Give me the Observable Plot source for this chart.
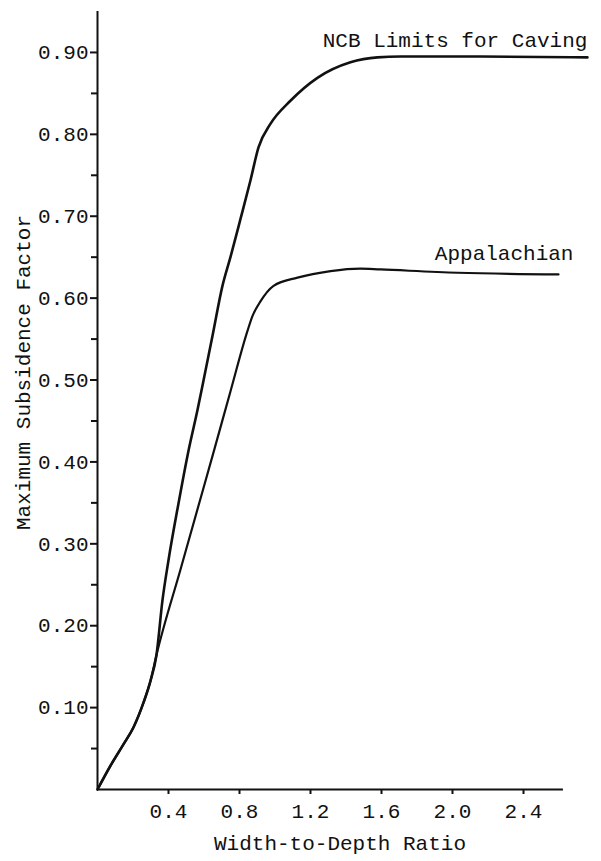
<!DOCTYPE html>
<html>
<head>
<meta charset="utf-8">
<script src="https://cdn.jsdelivr.net/npm/d3@7"></script>
<script src="https://cdn.jsdelivr.net/npm/@observablehq/plot@0.6"></script>
<style>
  html, body { margin: 0; padding: 0; background: #fff; }
</style>
</head>
<body>
<div id="chart"></div>
<script>
// --- data ---
const ncbName = "NCB Limits for Caving";
const ncbX = [0, 0.073, 0.146, 0.203, 0.259, 0.299, 0.332, 0.366, 0.4, 0.456, 0.513, 0.563, 0.597, 0.648, 0.704, 0.749, 0.806, 0.862, 0.907, 0.975, 1.087, 1.239, 1.425, 1.577, 1.707, 2.158, 2.76];
const ncbY = [0, 0.029, 0.055, 0.076, 0.106, 0.133, 0.164, 0.231, 0.28, 0.349, 0.414, 0.463, 0.499, 0.554, 0.615, 0.65, 0.697, 0.744, 0.784, 0.813, 0.841, 0.869, 0.888, 0.894, 0.895, 0.895, 0.894];

const appName = "Appalachian";
const appX = [0, 0.073, 0.146, 0.203, 0.259, 0.299, 0.332, 0.468, 0.58, 0.654, 0.749, 0.845, 0.873, 0.918, 0.992, 1.127, 1.313, 1.48, 1.594, 2.028, 2.597];
const appY = [0, 0.029, 0.055, 0.076, 0.106, 0.133, 0.164, 0.269, 0.355, 0.412, 0.486, 0.56, 0.578, 0.596, 0.615, 0.625, 0.633, 0.636, 0.635, 0.631, 0.629];

const xTicks = [0.4, 0.8, 1.2, 1.6, 2.0, 2.4];
const yTicksMajor = [0.1, 0.2, 0.3, 0.4, 0.5, 0.6, 0.7, 0.8, 0.9];
const yTicksMinor = [0.05, 0.15, 0.25, 0.35, 0.45, 0.55, 0.65, 0.75, 0.85];

const xTitle = "Width-to-Depth Ratio";
const yTitle = "Maximum Subsidence Factor";

// --- build tables ---
const ncb = ncbX.map((x, i) => ({x, y: ncbY[i]}));
const app = appX.map((x, i) => ({x, y: appY[i]}));
const ncbLast = ncb[ncb.length - 1];
const appLast = app[app.length - 1];

const ink = "#111";

const chart = Plot.plot({
  width: 601,
  height: 861,
  marginLeft: 97,
  marginRight: 7,
  marginTop: 11,
  marginBottom: 72,
  x: {domain: [0, 2.8]},
  y: {domain: [0, 0.95]},
  style: {fontFamily: "'Liberation Mono', 'DejaVu Sans Mono', monospace", fontSize: "21px", background: "#fff", color: ink},
  marks: [
    // axis lines
    Plot.ruleX([0], {y1: 0, y2: 0.95, stroke: ink, strokeWidth: 2}),
    Plot.ruleY([0], {x1: 0, x2: 2.625, stroke: ink, strokeWidth: 2}),
    // y ticks
    Plot.axisY(yTicksMajor, {tickSize: 7, tickPadding: 2, tickFormat: d3.format(".2f"), label: null, stroke: ink, strokeWidth: 2}),
    Plot.axisY(yTicksMinor, {tickSize: 6, tickFormat: () => "", label: null, stroke: ink, strokeWidth: 2}),
    // x ticks
    Plot.axisX(xTicks, {tickSize: 5, tickPadding: 9, tickFormat: d3.format(".1f"), label: null, stroke: ink, strokeWidth: 2}),
    // curves
    Plot.line(ncb, {x: "x", y: "y", curve: "monotone-x", stroke: ink, strokeWidth: 2.6}),
    Plot.line(app, {x: "x", y: "y", curve: "monotone-x", stroke: ink, strokeWidth: 2.2}),
    // curve labels
    Plot.text([ncbLast], {x: "x", y: "y", text: () => ncbName, textAnchor: "end", dy: -17, fill: ink}),
    Plot.text([appLast], {x: "x", y: "y", text: () => appName, textAnchor: "end", dx: 15, dy: -21, fill: ink}),
    // titles
    Plot.text([xTitle], {frameAnchor: "bottom", text: d => d, textAnchor: "middle", dy: 60, dx: -6, fill: ink}),
    Plot.text([yTitle], {frameAnchor: "left", text: d => d, textAnchor: "middle", rotate: -90, dx: -74, dy: -28, fill: ink})
  ]
});

document.getElementById("chart").appendChild(chart);
</script>
</body>
</html>
